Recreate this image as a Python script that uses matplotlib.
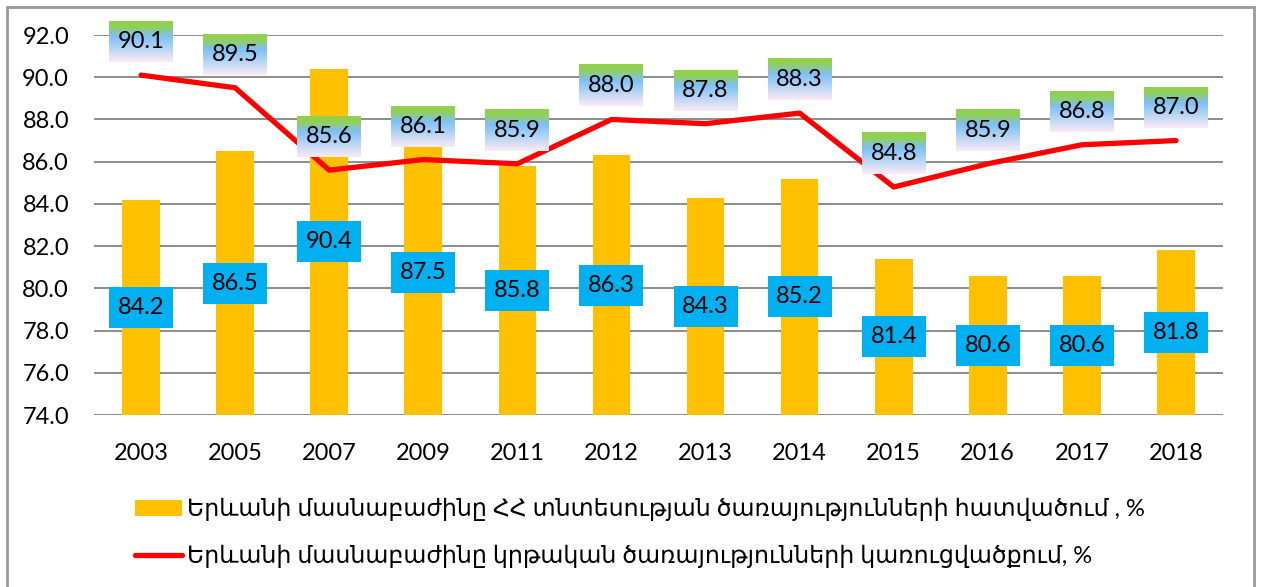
import numpy as np
import matplotlib.pyplot as plt
from matplotlib.patches import Rectangle
from matplotlib.colors import to_rgb

years = ["2003", "2005", "2007", "2009", "2011", "2012", "2013", "2014",
         "2015", "2016", "2017", "2018"]
economy_share = [84.2, 86.5, 90.4, 87.5, 85.8, 86.3, 84.3, 85.2, 81.4, 80.6, 80.6, 81.8]
education_share = [90.1, 89.5, 85.6, 86.1, 85.9, 88.0, 87.8, 88.3, 84.8, 85.9, 86.8, 87.0]
bar_label = "Երևանի մասնաբաժինը ՀՀ տնտեսության ծառայությունների հատվածում , %"
line_label = "Երևանի մասնաբաժինը կրթական ծառայությունների կառուցվածքում, %"

plt.rcParams["font.family"] = ["Lato", "DejaVu Sans"]

W, H = 1262, 587
fig = plt.figure(figsize=(W / 100, H / 100), dpi=100)
ax = fig.add_axes([94 / W, (H - 415) / H, (1223 - 94) / W, (415 - 35) / H])

x = np.arange(len(years))
bars = ax.bar(x, [v - 74 for v in economy_share], bottom=74, width=0.4,
              color="#FFC000", zorder=2, label=bar_label)
line, = ax.plot(x, education_share, color="#FF0000", lw=3.8, solid_capstyle="round",
                solid_joinstyle="round", zorder=3, label=line_label)

ax.set_ylim(74, 92)
ax.set_xlim(-0.5, len(years) - 0.5)
ax.set_yticks(np.arange(74, 92.1, 2))
ax.set_yticklabels([f"{t:.1f}" for t in np.arange(74, 92.1, 2)])
ax.set_xticks(x)
ax.set_xticklabels(years)
ax.tick_params(length=0, labelsize=17, colors="black")
ax.tick_params(axis="y", pad=18)
ax.tick_params(axis="x", pad=20)
ax.grid(axis="y", color="#8c8c8c", lw=1.4, zorder=0)
for s in ax.spines.values():
    s.set_visible(False)

# px -> data units
ppx = 18 / 380.0
box_w = 64 / 94.1
box_h = 41 * ppx

# bar labels: blue boxes at bar middle
for xi, v in zip(x, economy_share):
    yc = (74 + v) / 2
    ax.add_patch(Rectangle((xi - box_w / 2, yc - box_h / 2), box_w, box_h,
                           facecolor="#00B0F0", edgecolor="none", zorder=4))
    ax.text(xi, yc, f"{v:.1f}", ha="center", va="center", fontsize=17, zorder=5)

# line labels: gradient boxes above points
stops = [(0.0, "#92D050"), (0.12, "#92D050"), (0.38, "#80C0F8"),
         (0.6, "#A8D0F4"), (1.0, "#FBEAF6")]
n = 64
pos = np.linspace(0, 1, n)
grad = np.zeros((n, 1, 3))
for ch in range(3):
    grad[:, 0, ch] = np.interp(pos, [s[0] for s in stops], [to_rgb(s[1])[ch] for s in stops])

for xi, v in zip(x, education_share):
    y0 = v + 13 * ppx
    ax.imshow(grad, extent=[xi - box_w / 2, xi + box_w / 2, y0, y0 + box_h],
              aspect="auto", origin="upper", zorder=4, clip_on=False,
              interpolation="bilinear")
    ax.text(xi, y0 + box_h / 2, f"{v:.1f}", ha="center", va="center",
            fontsize=17, zorder=5, clip_on=False)

ax.set_xlim(-0.5, len(years) - 0.5)
ax.set_ylim(74, 92)

fig.legend(handles=[bars, line], labels=[bar_label, line_label],
           loc="upper left", bbox_to_anchor=(114 / W, 1 - 477 / H), frameon=False,
           handlelength=2.0, handletextpad=0.2, labelspacing=1.0,
           prop={"family": ["Lato", "DejaVu Sans"], "size": 17})

fig.add_artist(Rectangle((7 / W, -0.05), (1254 - 7) / W, 1.05 - 7 / H,
                         transform=fig.transFigure, fill=False,
                         edgecolor="#999999", lw=2))

fig.savefig("out.png", dpi=100)
